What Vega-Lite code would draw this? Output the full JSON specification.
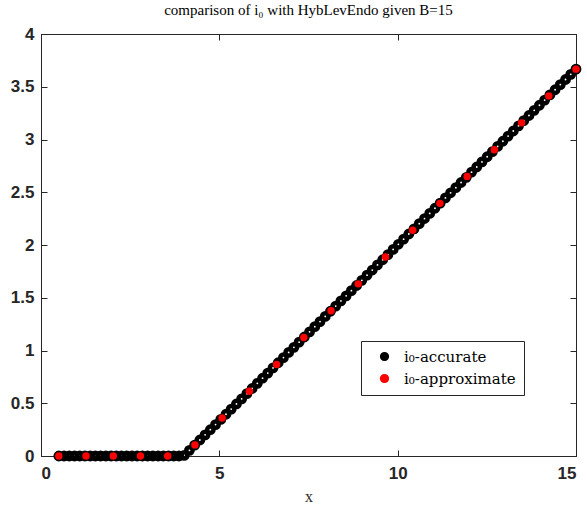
{
  "$schema": "https://vega.github.io/schema/vega-lite/v6.json",
  "width": 535,
  "height": 422,
  "autosize": {"type": "none"},
  "padding": {"left": 41, "top": 34, "right": 11, "bottom": 51},
  "background": "white",
  "config": {
    "view": {"stroke": "#262626", "strokeWidth": 1},
    "axis": {
      "domainColor": "#262626", "tickColor": "#262626", "grid": false,
      "labelFont": "Liberation Sans", "labelFontWeight": "bold", "labelFontSize": 17, "labelColor": "#262626",
      "titleFont": "Liberation Serif", "titleFontWeight": "normal", "titleFontSize": 16, "titleColor": "#262626",
      "tickSize": -6
    }
  },
  "title": {"text": "comparison of i₀ with HybLevEndo given B=15", "font": "Liberation Serif", "fontSize": 15, "fontWeight": "normal", "color": "#000000", "offset": 7},
  "datasets": {
    "acc": [
      {"x": 0.5, "y": 0, "series": "i₀-accurate"},
      {"x": 0.6465, "y": 0, "series": "i₀-accurate"},
      {"x": 0.7929, "y": 0, "series": "i₀-accurate"},
      {"x": 0.9394, "y": 0, "series": "i₀-accurate"},
      {"x": 1.0859, "y": 0, "series": "i₀-accurate"},
      {"x": 1.2323, "y": 0, "series": "i₀-accurate"},
      {"x": 1.3788, "y": 0, "series": "i₀-accurate"},
      {"x": 1.5253, "y": 0, "series": "i₀-accurate"},
      {"x": 1.6717, "y": 0, "series": "i₀-accurate"},
      {"x": 1.8182, "y": 0, "series": "i₀-accurate"},
      {"x": 1.9646, "y": 0, "series": "i₀-accurate"},
      {"x": 2.1111, "y": 0, "series": "i₀-accurate"},
      {"x": 2.2576, "y": 0, "series": "i₀-accurate"},
      {"x": 2.4040, "y": 0, "series": "i₀-accurate"},
      {"x": 2.5505, "y": 0, "series": "i₀-accurate"},
      {"x": 2.6970, "y": 0, "series": "i₀-accurate"},
      {"x": 2.8434, "y": 0, "series": "i₀-accurate"},
      {"x": 2.9899, "y": 0, "series": "i₀-accurate"},
      {"x": 3.1364, "y": 0, "series": "i₀-accurate"},
      {"x": 3.2828, "y": 0, "series": "i₀-accurate"},
      {"x": 3.4293, "y": 0, "series": "i₀-accurate"},
      {"x": 3.5758, "y": 0, "series": "i₀-accurate"},
      {"x": 3.7222, "y": 0, "series": "i₀-accurate"},
      {"x": 3.8687, "y": 0, "series": "i₀-accurate"},
      {"x": 4.0152, "y": 0.0051, "series": "i₀-accurate"},
      {"x": 4.1616, "y": 0.0539, "series": "i₀-accurate"},
      {"x": 4.3081, "y": 0.1027, "series": "i₀-accurate"},
      {"x": 4.4545, "y": 0.1515, "series": "i₀-accurate"},
      {"x": 4.6010, "y": 0.2003, "series": "i₀-accurate"},
      {"x": 4.7475, "y": 0.2492, "series": "i₀-accurate"},
      {"x": 4.8939, "y": 0.2980, "series": "i₀-accurate"},
      {"x": 5.0404, "y": 0.3468, "series": "i₀-accurate"},
      {"x": 5.1869, "y": 0.3956, "series": "i₀-accurate"},
      {"x": 5.3333, "y": 0.4444, "series": "i₀-accurate"},
      {"x": 5.4798, "y": 0.4933, "series": "i₀-accurate"},
      {"x": 5.6263, "y": 0.5421, "series": "i₀-accurate"},
      {"x": 5.7727, "y": 0.5909, "series": "i₀-accurate"},
      {"x": 5.9192, "y": 0.6397, "series": "i₀-accurate"},
      {"x": 6.0657, "y": 0.6886, "series": "i₀-accurate"},
      {"x": 6.2121, "y": 0.7374, "series": "i₀-accurate"},
      {"x": 6.3586, "y": 0.7862, "series": "i₀-accurate"},
      {"x": 6.5051, "y": 0.8350, "series": "i₀-accurate"},
      {"x": 6.6515, "y": 0.8838, "series": "i₀-accurate"},
      {"x": 6.7980, "y": 0.9327, "series": "i₀-accurate"},
      {"x": 6.9444, "y": 0.9815, "series": "i₀-accurate"},
      {"x": 7.0909, "y": 1.0303, "series": "i₀-accurate"},
      {"x": 7.2374, "y": 1.0791, "series": "i₀-accurate"},
      {"x": 7.3838, "y": 1.1279, "series": "i₀-accurate"},
      {"x": 7.5303, "y": 1.1768, "series": "i₀-accurate"},
      {"x": 7.6768, "y": 1.2256, "series": "i₀-accurate"},
      {"x": 7.8232, "y": 1.2744, "series": "i₀-accurate"},
      {"x": 7.9697, "y": 1.3232, "series": "i₀-accurate"},
      {"x": 8.1162, "y": 1.3721, "series": "i₀-accurate"},
      {"x": 8.2626, "y": 1.4209, "series": "i₀-accurate"},
      {"x": 8.4091, "y": 1.4697, "series": "i₀-accurate"},
      {"x": 8.5556, "y": 1.5185, "series": "i₀-accurate"},
      {"x": 8.7020, "y": 1.5673, "series": "i₀-accurate"},
      {"x": 8.8485, "y": 1.6162, "series": "i₀-accurate"},
      {"x": 8.9949, "y": 1.6650, "series": "i₀-accurate"},
      {"x": 9.1414, "y": 1.7138, "series": "i₀-accurate"},
      {"x": 9.2879, "y": 1.7626, "series": "i₀-accurate"},
      {"x": 9.4343, "y": 1.8114, "series": "i₀-accurate"},
      {"x": 9.5808, "y": 1.8603, "series": "i₀-accurate"},
      {"x": 9.7273, "y": 1.9091, "series": "i₀-accurate"},
      {"x": 9.8737, "y": 1.9579, "series": "i₀-accurate"},
      {"x": 10.0202, "y": 2.0067, "series": "i₀-accurate"},
      {"x": 10.1667, "y": 2.0556, "series": "i₀-accurate"},
      {"x": 10.3131, "y": 2.1044, "series": "i₀-accurate"},
      {"x": 10.4596, "y": 2.1532, "series": "i₀-accurate"},
      {"x": 10.6061, "y": 2.2020, "series": "i₀-accurate"},
      {"x": 10.7525, "y": 2.2508, "series": "i₀-accurate"},
      {"x": 10.8990, "y": 2.2997, "series": "i₀-accurate"},
      {"x": 11.0455, "y": 2.3485, "series": "i₀-accurate"},
      {"x": 11.1919, "y": 2.3973, "series": "i₀-accurate"},
      {"x": 11.3384, "y": 2.4461, "series": "i₀-accurate"},
      {"x": 11.4848, "y": 2.4949, "series": "i₀-accurate"},
      {"x": 11.6313, "y": 2.5438, "series": "i₀-accurate"},
      {"x": 11.7778, "y": 2.5926, "series": "i₀-accurate"},
      {"x": 11.9242, "y": 2.6414, "series": "i₀-accurate"},
      {"x": 12.0707, "y": 2.6902, "series": "i₀-accurate"},
      {"x": 12.2172, "y": 2.7391, "series": "i₀-accurate"},
      {"x": 12.3636, "y": 2.7879, "series": "i₀-accurate"},
      {"x": 12.5101, "y": 2.8367, "series": "i₀-accurate"},
      {"x": 12.6566, "y": 2.8855, "series": "i₀-accurate"},
      {"x": 12.8030, "y": 2.9343, "series": "i₀-accurate"},
      {"x": 12.9495, "y": 2.9832, "series": "i₀-accurate"},
      {"x": 13.0960, "y": 3.0320, "series": "i₀-accurate"},
      {"x": 13.2424, "y": 3.0808, "series": "i₀-accurate"},
      {"x": 13.3889, "y": 3.1296, "series": "i₀-accurate"},
      {"x": 13.5354, "y": 3.1785, "series": "i₀-accurate"},
      {"x": 13.6818, "y": 3.2273, "series": "i₀-accurate"},
      {"x": 13.8283, "y": 3.2761, "series": "i₀-accurate"},
      {"x": 13.9747, "y": 3.3249, "series": "i₀-accurate"},
      {"x": 14.1212, "y": 3.3737, "series": "i₀-accurate"},
      {"x": 14.2677, "y": 3.4226, "series": "i₀-accurate"},
      {"x": 14.4141, "y": 3.4714, "series": "i₀-accurate"},
      {"x": 14.5606, "y": 3.5202, "series": "i₀-accurate"},
      {"x": 14.7071, "y": 3.5690, "series": "i₀-accurate"},
      {"x": 14.8535, "y": 3.6178, "series": "i₀-accurate"},
      {"x": 15.0, "y": 3.6667, "series": "i₀-accurate"}
    ],
    "app": [
      {"x": 0.5, "y": 0, "series": "i₀-approximate"},
      {"x": 1.2632, "y": 0, "series": "i₀-approximate"},
      {"x": 2.0263, "y": 0, "series": "i₀-approximate"},
      {"x": 2.7895, "y": 0, "series": "i₀-approximate"},
      {"x": 3.5526, "y": 0, "series": "i₀-approximate"},
      {"x": 4.3158, "y": 0.1053, "series": "i₀-approximate"},
      {"x": 5.0789, "y": 0.3596, "series": "i₀-approximate"},
      {"x": 5.8421, "y": 0.6140, "series": "i₀-approximate"},
      {"x": 6.6053, "y": 0.8684, "series": "i₀-approximate"},
      {"x": 7.3684, "y": 1.1228, "series": "i₀-approximate"},
      {"x": 8.1316, "y": 1.3772, "series": "i₀-approximate"},
      {"x": 8.8947, "y": 1.6316, "series": "i₀-approximate"},
      {"x": 9.6579, "y": 1.8860, "series": "i₀-approximate"},
      {"x": 10.4211, "y": 2.1404, "series": "i₀-approximate"},
      {"x": 11.1842, "y": 2.3947, "series": "i₀-approximate"},
      {"x": 11.9474, "y": 2.6491, "series": "i₀-approximate"},
      {"x": 12.7105, "y": 2.9035, "series": "i₀-approximate"},
      {"x": 13.4737, "y": 3.1579, "series": "i₀-approximate"},
      {"x": 14.2368, "y": 3.4123, "series": "i₀-approximate"},
      {"x": 15.0, "y": 3.6667, "series": "i₀-approximate"}
    ]
  },
  "layer": [
    {
      "data": {"name": "acc"},
      "mark": {"type": "point", "shape": "circle", "filled": false, "strokeWidth": 4.5, "size": 40, "opacity": 1},
      "encoding": {
        "x": {"field": "x", "type": "quantitative", "scale": {"domain": [0, 15], "nice": false, "zero": false},
              "axis": {"orient": "bottom", "values": [0, 5, 10, 15], "format": "~g", "title": "x", "labelPadding": 15, "titlePadding": 7, "labelFontWeight": "bold", "labelFontSize": 17}},
        "y": {"field": "y", "type": "quantitative", "scale": {"domain": [0, 4], "nice": false},
              "axis": {"orient": "left", "values": [0, 0.5, 1, 1.5, 2, 2.5, 3, 3.5, 4], "format": "~g", "title": null, "labelPadding": 13, "labelFontWeight": "bold", "labelFontSize": 17}},
        "color": {"field": "series", "type": "nominal",
                  "scale": {"domain": ["i₀-accurate", "i₀-approximate"], "range": ["#000000", "#ff0000"]},
                  "legend": {
                    "title": null, "orient": "none", "legendX": 320, "legendY": 307,
                    "direction": "vertical",
                    "strokeColor": "#262626", "fillColor": "white", "padding": 8,
                    "labelFont": "DejaVu Serif", "labelFontSize": 15, "labelColor": "#000000",
                    "labelLimit": 300, "symbolSize": 60, "symbolOffset": 8, "labelOffset": 12, "rowPadding": 6,
                    "cornerRadius": 0,
                    "encode": {
                      "symbols": {"update": {
                        "shape": {"value": "circle"},
                        "size": {"signal": "datum.index === 0 ? 40 : 40"},
                        "strokeWidth": {"signal": "datum.index === 0 ? 4 : 0"},
                        "stroke": {"signal": "datum.index === 0 ? '#000000' : '#ff0000'"},
                        "fill": {"signal": "datum.index === 0 ? 'white' : '#ff0000'"},
                        "opacity": {"value": 1}
                      }}
                    }
                  }}
      }
    },
    {
      "data": {"name": "app"},
      "mark": {"type": "circle", "size": 55, "opacity": 1},
      "encoding": {
        "x": {"field": "x", "type": "quantitative",
              "axis": {"orient": "top", "values": [0, 5, 10, 15], "labels": false, "title": null, "domain": true}},
        "y": {"field": "y", "type": "quantitative",
              "axis": {"orient": "right", "values": [0, 0.5, 1, 1.5, 2, 2.5, 3, 3.5, 4], "labels": false, "title": null}},
        "color": {"field": "series", "type": "nominal"}
      }
    }
  ],
  "resolve": {"axis": {"x": "independent", "y": "independent"}}
}
